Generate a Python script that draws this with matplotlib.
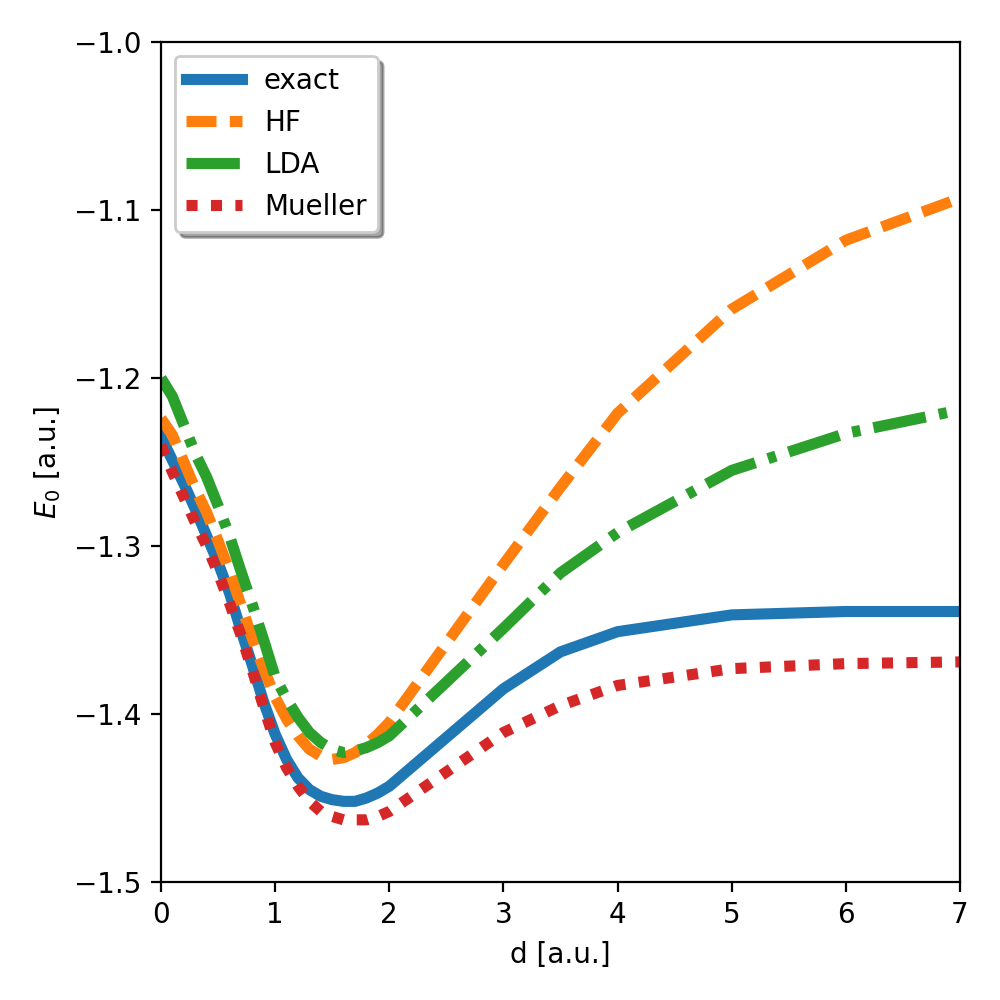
import matplotlib

matplotlib.use("Agg")
import matplotlib.pyplot as plt
import numpy as np

# bond distance grid (a.u.)
d = [0.0, 0.1, 0.2, 0.3, 0.4, 0.5, 0.6, 0.7, 0.8, 0.9, 1.0,
     1.1, 1.2, 1.3, 1.4, 1.5, 1.6, 1.7, 1.8, 1.9, 2.0,
     3.0, 3.5, 4.0, 5.0, 6.0, 7.0]

e_exact = [-1.235, -1.249, -1.263, -1.278, -1.294, -1.310, -1.328, -1.350, -1.371, -1.393, -1.412,
           -1.427, -1.438, -1.445, -1.449, -1.451, -1.452, -1.452, -1.450, -1.447, -1.443,
           -1.385, -1.363, -1.351, -1.341, -1.339, -1.339]

e_hf = [-1.224, -1.234, -1.250, -1.266, -1.280, -1.297, -1.315, -1.335, -1.355, -1.373, -1.390,
        -1.403, -1.413, -1.421, -1.425, -1.427, -1.426, -1.423, -1.418, -1.412, -1.405,
        -1.311, -1.265, -1.221, -1.159, -1.118, -1.093]

e_lda = [-1.200, -1.211, -1.228, -1.245, -1.259, -1.276, -1.294, -1.315, -1.335, -1.356, -1.378,
         -1.391, -1.402, -1.411, -1.417, -1.421, -1.423, -1.422, -1.420, -1.417, -1.413,
         -1.349, -1.316, -1.292, -1.255, -1.233, -1.219]

e_mueller = [-1.240, -1.256, -1.271, -1.286, -1.300, -1.316, -1.334, -1.353, -1.374, -1.396, -1.417,
             -1.432, -1.443, -1.452, -1.458, -1.461, -1.463, -1.463, -1.463, -1.461, -1.458,
             -1.411, -1.395, -1.383, -1.373, -1.370, -1.369]

fig, ax = plt.subplots(figsize=(5, 5), dpi=200)
fig.subplots_adjust(left=0.161, right=0.96, top=0.958, bottom=0.118)

ax.plot(d, e_exact, color="C0", lw=4, label="exact")
ax.plot(d, e_hf, color="C1", lw=4, ls=(0, (2.7, 1.2)), label="HF")
ax.plot(d, e_lda, color="C2", lw=4, ls=(0, (4.8, 1.2, 0.75, 1.2)), label="LDA")
ax.plot(d, e_mueller, color="C3", lw=4, ls=(0, (1, 1.2)), label="Mueller")

ax.set_xlim(0, 7)
ax.set_ylim(-1.5, -1.0)
ax.set_yticks(np.arange(-1.5, -0.95, 0.1))
ax.set_xlabel("d [a.u.]")
ax.set_ylabel("$E_0$ [a.u.]")
ax.legend(loc="upper left", shadow=True)

fig.savefig("out.png", dpi=200)
